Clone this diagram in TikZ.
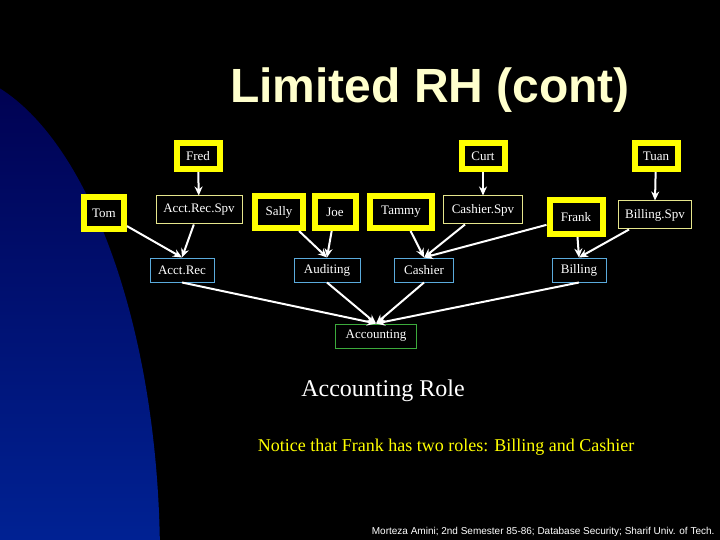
\documentclass[tikz,border=0pt]{standalone}
\usepackage{fontspec}
\setmainfont{Liberation Serif}
\newfontfamily\ttlfont{Liberation Sans}
\usetikzlibrary{arrows.meta}
\definecolor{ylw}{RGB}{255,255,0}
\definecolor{ttl}{RGB}{255,255,204}
\definecolor{thinY}{RGB}{230,230,140}
\definecolor{thinB}{RGB}{90,170,220}
\definecolor{thinG}{RGB}{60,170,60}
\begin{document}
\begin{tikzpicture}[x=1pt,y=-1pt,
  user/.style={draw=ylw,line width=6pt,fill=black,text=white,minimum height=26pt,inner sep=3pt,font=\fontsize{13}{15}\selectfont},
  spv/.style={draw=thinY,line width=1pt,fill=black,text=white,minimum height=28pt,inner sep=3pt,font=\fontsize{13}{15}\selectfont},
  role/.style={draw=thinB,line width=1pt,fill=black,text=white,minimum height=24pt,inner sep=3pt,font=\fontsize{13}{15}\selectfont},
  top/.style={draw=thinG,line width=1pt,fill=black,text=white,minimum height=24pt,inner sep=3pt,font=\fontsize{13}{15}\selectfont},
  arr/.style={draw=white,line width=2pt,-{Stealth[length=9pt,width=8pt]}}]
\fill[black] (0,0) rectangle (720,540);
\useasboundingbox (0,0) rectangle (720,540);
\begin{scope}
\clip (0,0) rectangle (720,540);
\shade[top color={rgb,255:red,0;green,0;blue,80},bottom color={rgb,255:red,0;green,70;blue,220}] (-60,560) ellipse [x radius=220,y radius=490];
\end{scope}
\node[text=ttl,font=\ttlfont\bfseries\fontsize{48}{54}\selectfont] (title) at (430,90) {Limited RH (cont)};
% nodes
\node[user,minimum width=43pt] (fred) at (198,156) {Fred};
\node[user,minimum width=43pt] (curt) at (483,156) {Curt};
\node[user,minimum width=43pt] (tuan) at (656,156) {Tuan};
\node[user,minimum width=40pt,minimum height=32pt] (tom) at (104,213) {Tom};
\node[spv,minimum width=86pt] (ars) at (199,210) {Acct.Rec.Spv};
\node[user,minimum width=48pt,minimum height=32pt] (sally) at (279,212) {Sally};
\node[user,minimum width=41pt,minimum height=32pt] (joe) at (335,212) {Joe};
\node[user,minimum width=62pt,minimum height=32pt] (tammy) at (401,212) {Tammy};
\node[spv,minimum width=79pt] (cs) at (483,210) {Cashier.Spv};
\node[user,minimum width=53pt,minimum height=34pt] (frank) at (576,217) {Frank};
\node[spv,minimum width=73pt] (bs) at (655,215) {Billing.Spv};
\node[role,minimum width=64pt] (ar) at (182,270) {Acct.Rec};
\node[role,minimum width=66pt] (aud) at (327,270) {Auditing};
\node[role,minimum width=59pt] (cash) at (424,270) {Cashier};
\node[role,minimum width=54pt] (bill) at (579,270) {Billing};
\node[top,minimum width=81pt] (acc) at (376,336) {Accounting};
% arrows
\draw[arr] (fred) -- (ars);
\draw[arr] (curt) -- (cs);
\draw[arr] (tuan) -- (bs.north);
\draw[arr] (tom) -- (ar.north);
\draw[arr] (ars) -- (ar.north);
\draw[arr] (sally) -- (aud.north);
\draw[arr] (joe) -- (aud.north);
\draw[arr] (tammy) -- (cash.north);
\draw[arr] (cs) -- (cash.north);
\draw[arr] (frank) -- (cash.north);
\draw[arr] (frank) -- (bill.north);
\draw[arr] (bs) -- (bill.north);
\draw[arr] (ar.south) -- (acc.north);
\draw[arr] (aud.south) -- (acc.north);
\draw[arr] (cash.south) -- (acc.north);
\draw[arr] (bill.south) -- (acc.north);
\node[text=white,font=\fontsize{24}{28}\selectfont] (role) at (383,391) {Accounting Role};
\node[text=ylw,font=\fontsize{18}{21}\selectfont] (note) at (446,447) {Notice that Frank has two roles: Billing and Cashier};
\node[text=white,font=\ttlfont\fontsize{10}{12}\selectfont,anchor=east] (foot) at (718,532) {Morteza Amini; 2nd Semester 85-86; Database Security; Sharif Univ. of Tech.};
\end{tikzpicture}
\end{document}
